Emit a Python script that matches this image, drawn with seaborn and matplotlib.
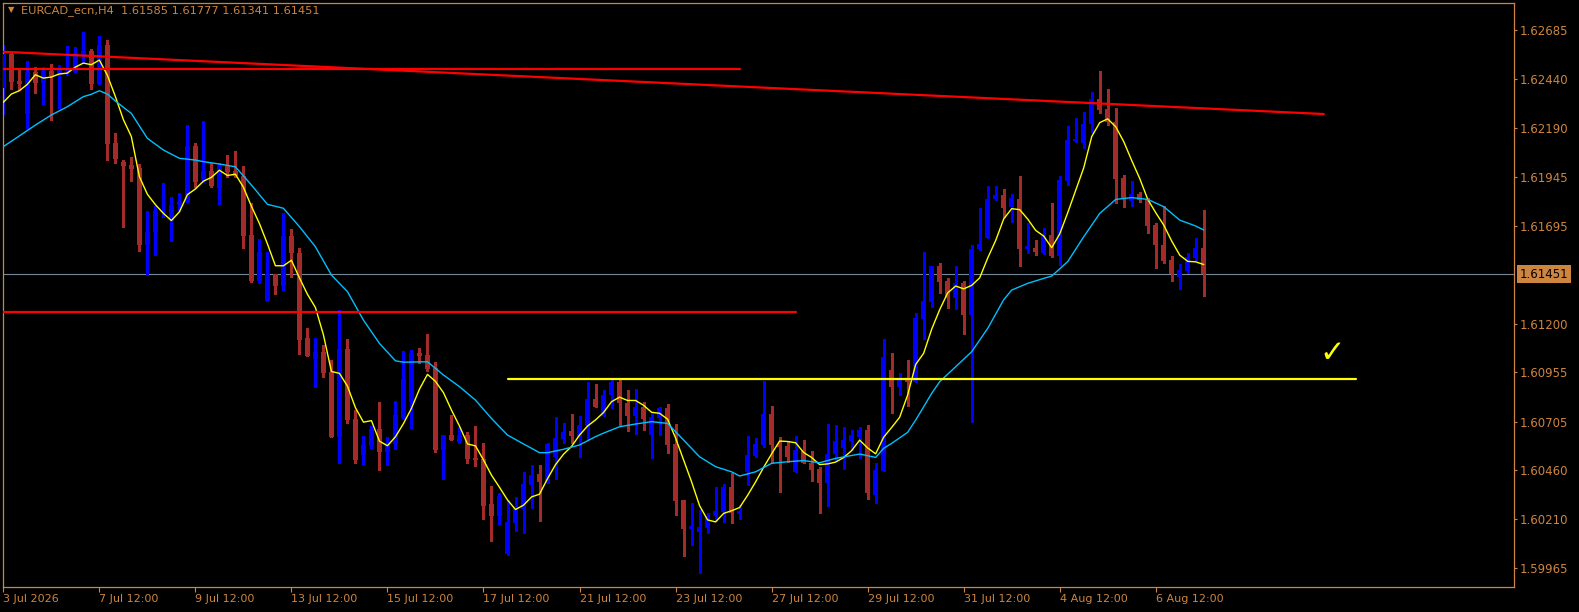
import matplotlib
matplotlib.use("Agg")
import matplotlib.pyplot as plt
import numpy as np
import pandas as pd
import seaborn as sns

# EURCAD_ecn H4 candles, oldest first
opens = [1.62392, 1.62566, 1.62429, 1.62262, 1.62475, 1.62421, 1.62481, 1.62459, 1.62481, 1.62476,
         1.62557, 1.62583, 1.62414, 1.62611, 1.62117, 1.62021, 1.62004, 1.61989, 1.61599, 1.61665,
         1.61774, 1.61722, 1.61800, 1.61818, 1.62100, 1.61928, 1.61973, 1.61889, 1.61999, 1.61973,
         1.61948, 1.61648, 1.61417, 1.61317, 1.61452, 1.61393, 1.61644, 1.61557, 1.61128, 1.61022,
         1.61057, 1.60956, 1.60627, 1.61072, 1.60718, 1.60536, 1.60583, 1.60667, 1.60553, 1.60593,
         1.60725, 1.60806, 1.61052, 1.61042, 1.60975, 1.60563, 1.60635, 1.60603, 1.60635, 1.60522,
         1.60516, 1.60290, 1.60229, 1.60036, 1.60193, 1.60263, 1.60386, 1.60440, 1.60394, 1.60524,
         1.60617, 1.60657, 1.60629, 1.60684, 1.60819, 1.60735, 1.60840, 1.60905, 1.60801, 1.60735,
         1.60780, 1.60637, 1.60725, 1.60775, 1.60592, 1.60308, 1.60161, 1.60148, 1.60168, 1.60229,
         1.60249, 1.60376, 1.60237, 1.60451, 1.60532, 1.60587, 1.60743, 1.60592, 1.60581, 1.60451,
         1.60556, 1.60494, 1.60465, 1.60396, 1.60541, 1.60570, 1.60607, 1.60629, 1.60662, 1.60333,
         1.60457, 1.60966, 1.60882, 1.60920, 1.60907, 1.61222, 1.61312, 1.61492, 1.61417, 1.61329,
         1.61405, 1.61244, 1.61579, 1.61636, 1.61830, 1.61852, 1.61789, 1.61832, 1.61579, 1.61585,
         1.61560, 1.61650, 1.61545, 1.61925, 1.62127, 1.62113, 1.62210, 1.62338, 1.62287, 1.62223,
         1.61940, 1.61823, 1.61857, 1.61830, 1.61700, 1.61599, 1.61523, 1.61439, 1.61469, 1.61535,
         1.61585]
highs = [1.62611, 1.62578, 1.62497, 1.62530, 1.62502, 1.62502, 1.62515, 1.62510, 1.62606, 1.62603,
         1.62679, 1.62591, 1.62657, 1.62637, 1.62167, 1.62029, 1.62046, 1.62007, 1.61773, 1.61796,
         1.61914, 1.61841, 1.61860, 1.62206, 1.62114, 1.62228, 1.62012, 1.62012, 1.62054, 1.62075,
         1.61999, 1.61813, 1.61629, 1.61562, 1.61452, 1.61759, 1.61680, 1.61585, 1.61179, 1.61126,
         1.61093, 1.61017, 1.61270, 1.61123, 1.60764, 1.60632, 1.60683, 1.60802, 1.60629, 1.60809,
         1.61062, 1.61067, 1.61077, 1.61148, 1.61008, 1.60635, 1.60738, 1.60679, 1.60651, 1.60683,
         1.60595, 1.60379, 1.60345, 1.60308, 1.60325, 1.60450, 1.60485, 1.60485, 1.60595, 1.60726,
         1.60696, 1.60743, 1.60735, 1.60907, 1.60895, 1.60865, 1.60915, 1.60915, 1.60865, 1.60870,
         1.60802, 1.60747, 1.60780, 1.60794, 1.60693, 1.60308, 1.60291, 1.60257, 1.60241, 1.60376,
         1.60387, 1.60446, 1.60283, 1.60634, 1.60620, 1.60910, 1.60784, 1.60629, 1.60607, 1.60634,
         1.60612, 1.60556, 1.60477, 1.60693, 1.60688, 1.60676, 1.60662, 1.60679, 1.60688, 1.60494,
         1.61123, 1.61052, 1.60953, 1.61017, 1.61253, 1.61565, 1.61492, 1.61509, 1.61430, 1.61492,
         1.61417, 1.61599, 1.61784, 1.61897, 1.61897, 1.61881, 1.61857, 1.61948, 1.61709, 1.61624,
         1.61683, 1.61810, 1.61948, 1.62203, 1.62243, 1.62274, 1.62375, 1.62480, 1.62389, 1.62291,
         1.61953, 1.61923, 1.61869, 1.61835, 1.61709, 1.61798, 1.61543, 1.61503, 1.61560, 1.61636,
         1.61777]
lows = [1.62260, 1.62389, 1.62383, 1.62189, 1.62367, 1.62313, 1.62232, 1.62294, 1.62459, 1.62476,
        1.62527, 1.62389, 1.62414, 1.62029, 1.62016, 1.61692, 1.61923, 1.61569, 1.61447, 1.61548,
        1.61742, 1.61621, 1.61771, 1.61818, 1.61894, 1.61919, 1.61891, 1.61806, 1.61945, 1.61945,
        1.61585, 1.61410, 1.61405, 1.61317, 1.61351, 1.61371, 1.61439, 1.61047, 1.61037, 1.60882,
        1.60932, 1.60625, 1.60497, 1.60696, 1.60497, 1.60490, 1.60570, 1.60460, 1.60485, 1.60565,
        1.60720, 1.60674, 1.61000, 1.60963, 1.60553, 1.60413, 1.60612, 1.60598, 1.60497, 1.60482,
        1.60212, 1.60102, 1.60187, 1.60030, 1.60153, 1.60143, 1.60269, 1.60203, 1.60394, 1.60413,
        1.60598, 1.60595, 1.60527, 1.60612, 1.60777, 1.60735, 1.60772, 1.60688, 1.60659, 1.60642,
        1.60662, 1.60522, 1.60637, 1.60548, 1.60232, 1.60026, 1.60080, 1.59940, 1.60139, 1.60203,
        1.60197, 1.60193, 1.60210, 1.60384, 1.60524, 1.60578, 1.60494, 1.60350, 1.60502, 1.60451,
        1.60494, 1.60404, 1.60244, 1.60279, 1.60510, 1.60465, 1.60561, 1.60519, 1.60313, 1.60294,
        1.60457, 1.60747, 1.60839, 1.60786, 1.60907, 1.61121, 1.61287, 1.61354, 1.61282, 1.61275,
        1.61148, 1.60705, 1.61574, 1.61633, 1.61827, 1.61742, 1.61717, 1.61494, 1.61560, 1.61548,
        1.61552, 1.61540, 1.61498, 1.61903, 1.62122, 1.62088, 1.62173, 1.62269, 1.62206, 1.61810,
        1.61790, 1.61798, 1.61818, 1.61661, 1.61484, 1.61506, 1.61418, 1.61374, 1.61456, 1.61523,
        1.61341]
closes = [1.62566, 1.62426, 1.62416, 1.62475, 1.62421, 1.62481, 1.62454, 1.62493, 1.62497, 1.62572,
          1.62583, 1.62414, 1.62611, 1.62112, 1.62034, 1.61999, 1.61984, 1.61599, 1.61665, 1.61771,
          1.61778, 1.61801, 1.61818, 1.62100, 1.61916, 1.61975, 1.61898, 1.61999, 1.61967, 1.61948,
          1.61646, 1.61417, 1.61563, 1.61452, 1.61393, 1.61644, 1.61557, 1.61118, 1.61037, 1.61057,
          1.60953, 1.60629, 1.61072, 1.60713, 1.60511, 1.60587, 1.60667, 1.60553, 1.60597, 1.60738,
          1.60921, 1.61052, 1.61039, 1.60971, 1.60561, 1.60635, 1.60612, 1.60635, 1.60517, 1.60512,
          1.60279, 1.60227, 1.60328, 1.60198, 1.60269, 1.60389, 1.60435, 1.60399, 1.60590, 1.60624,
          1.60652, 1.60632, 1.60686, 1.60819, 1.60780, 1.60840, 1.60905, 1.60801, 1.60735, 1.60780,
          1.60718, 1.60728, 1.60775, 1.60587, 1.60303, 1.60161, 1.60176, 1.60171, 1.60227, 1.60252,
          1.60376, 1.60244, 1.60252, 1.60536, 1.60592, 1.60743, 1.60587, 1.60576, 1.60524, 1.60561,
          1.60497, 1.60460, 1.60396, 1.60541, 1.60607, 1.60612, 1.60635, 1.60662, 1.60342, 1.60460,
          1.61032, 1.60882, 1.60920, 1.60907, 1.61231, 1.61315, 1.61492, 1.61413, 1.61332, 1.61405,
          1.61244, 1.61579, 1.61604, 1.61832, 1.61852, 1.61788, 1.61839, 1.61579, 1.61594, 1.61565,
          1.61644, 1.61545, 1.61928, 1.62130, 1.62135, 1.62211, 1.62336, 1.62282, 1.62223, 1.61935,
          1.61835, 1.61857, 1.61827, 1.61697, 1.61597, 1.61520, 1.61452, 1.61472, 1.61540, 1.61585,
          1.61451]

# fast MA(5) values for the first bars (history before the window)
fast_ma_head = [1.62321, 1.62363, 1.62380, 1.62412]

# slow MA, read at these bars
slow_ma_bars = [0, 2, 4, 6, 8, 10, 11, 12, 13, 14, 16, 18, 20, 22, 24, 25, 27, 29, 31, 33,
                35, 37, 39, 41, 43, 45, 47, 49, 50, 53, 55, 57, 59, 61, 63, 65, 67, 68, 70, 72,
                74, 75, 77, 79, 81, 83, 85, 87, 89, 91, 92, 94, 96, 98, 100, 102, 104, 107, 109, 110,
                111, 113, 114, 115, 116, 117, 119, 121, 123, 125, 126, 128, 130, 131, 133, 135, 137, 139, 141, 143,
                145, 147, 149, 150]
slow_ma_vals = [1.62097, 1.62151, 1.62206, 1.62257, 1.62299, 1.62350, 1.62362, 1.62380, 1.62363, 1.62328,
                1.62265, 1.62139, 1.62080, 1.62038, 1.62029, 1.62021, 1.62009, 1.61995, 1.61903, 1.61805,
                1.61785, 1.61692, 1.61590, 1.61447, 1.61363, 1.61219, 1.61101, 1.61013, 1.61006, 1.61008,
                1.60941, 1.60882, 1.60814, 1.60721, 1.60637, 1.60592, 1.60548, 1.60548, 1.60565, 1.60587,
                1.60629, 1.60647, 1.60679, 1.60693, 1.60705, 1.60696, 1.60612, 1.60527, 1.60477, 1.60451,
                1.60430, 1.60451, 1.60494, 1.60502, 1.60508, 1.60497, 1.60519, 1.60541, 1.60524, 1.60570,
                1.60595, 1.60651, 1.60713, 1.60780, 1.60848, 1.60907, 1.60983, 1.61059, 1.61177, 1.61322,
                1.61371, 1.61405, 1.61430, 1.61442, 1.61515, 1.61641, 1.61759, 1.61830, 1.61839, 1.61830,
                1.61793, 1.61725, 1.61695, 1.61675]

date_bars = [0, 12, 24, 36, 48, 60, 72, 84, 96, 108, 120, 132, 144]
date_labels = ["3 Jul 2026", "7 Jul 12:00", "9 Jul 12:00", "13 Jul 12:00", "15 Jul 12:00",
               "17 Jul 12:00", "21 Jul 12:00", "23 Jul 12:00", "27 Jul 12:00", "29 Jul 12:00",
               "31 Jul 12:00", "4 Aug 12:00", "6 Aug 12:00"]
price_ticks = [1.62685, 1.62440, 1.62190, 1.61945, 1.61695, 1.61200,
               1.60955, 1.60705, 1.60460, 1.60210, 1.59965]

# drawn objects: (bar, price) end points
trend_bars, trend_prices = [0, 165], [1.62577, 1.62262]
red_top_bars, red_top_price = [-2, 92], 1.62488
red_low_bars, red_low_price = [-2, 99], 1.61261
yellow_bars, yellow_price = [63, 169], 1.60921
check_bar, check_price = 166, 1.61050

ORANGE = '#CD853F'
BULL = '#0000FF'
BEAR = '#A52A2A'

sns.set_style("dark", {"axes.facecolor": "black", "figure.facecolor": "black",
                       "axes.grid": False, "axes.edgecolor": ORANGE})
plt.rcParams['font.family'] = ['DejaVu Sans']

fig = plt.figure(figsize=(15.79, 6.12), dpi=100)
ax = fig.add_axes([2.5 / 1579, 25 / 612, 1511 / 1579, 584 / 612])
ax.set_facecolor('black')

bars = np.arange(len(closes))
o = np.array(opens); h = np.array(highs); l = np.array(lows); c = np.array(closes)
colors = np.where(c >= o, BULL, BEAR)

last = closes[-1]
ax.axhline(last, color='#778899', lw=0.8, zorder=1)

# candles
ax.vlines(bars, l, h, colors=colors, lw=1.0, zorder=2, antialiased=False)
body = np.maximum(np.abs(c - o), 0.00002)
ax.bar(bars, body, bottom=np.minimum(o, c), width=0.68, color=colors, lw=0,
       zorder=3, antialiased=False)

# moving averages
fast = pd.Series(closes).rolling(5).mean()
fast.iloc[:4] = fast_ma_head
sns.lineplot(x=bars, y=fast.values, ax=ax, color='#FFFF00', lw=1.0, zorder=5,
             estimator=None, sort=False, legend=False)
sns.lineplot(x=slow_ma_bars, y=slow_ma_vals, ax=ax, color='#00BFFF', lw=1.0, zorder=5,
             estimator=None, sort=False, legend=False)

# objects
ax.plot(trend_bars, trend_prices, color='#FF0000', lw=1.6, zorder=6)
ax.plot(red_top_bars, [red_top_price] * 2, color='#FF0000', lw=1.6, zorder=6)
ax.plot(red_low_bars, [red_low_price] * 2, color='#FF0000', lw=1.6, zorder=6)
ax.plot(yellow_bars, [yellow_price] * 2, color='#FFFF00', lw=1.6, zorder=6)
ax.text(check_bar, check_price, "\u2713", color='#FFFF00', fontsize=22,
        fontweight='bold', ha='center', va='center', zorder=7)

ax.set_xlim(-0.1, 188.7)
ax.set_ylim(1.59868, 1.62824)

for s in ax.spines.values():
    s.set_color(ORANGE)
    s.set_linewidth(0.9)

ax.set_xticks(date_bars)
ax.set_xticklabels(date_labels, ha='left')
ax.tick_params(axis='x', colors=ORANGE, direction='out', length=3.5, width=0.8,
               labelsize=8, pad=1.5, bottom=True)
ax.yaxis.tick_right()
ax.set_yticks(price_ticks)
ax.set_yticklabels([f"{p:.5f}" for p in price_ticks])
ax.tick_params(axis='y', colors=ORANGE, direction='out', length=2.5, width=0.8,
               labelsize=8.5, pad=2, right=True, left=False)

# current price box
ax.text(1.0 + 6 / 1511, last, f"{last:.5f}", transform=ax.get_yaxis_transform(),
        ha='left', va='center', fontsize=8.5, color='black', clip_on=False,
        bbox=dict(boxstyle='square,pad=0.22', fc=ORANGE, ec='none'))

# header
fig.text(8 / 1579, 1 - 10 / 612, "\u25BC", color=ORANGE, fontsize=6, va='center')
fig.text(21 / 1579, 1 - 11 / 612,
         f"EURCAD_ecn,H4  {opens[-1]:.5f} {highs[-1]:.5f} {lows[-1]:.5f} {closes[-1]:.5f}",
         color=ORANGE, fontsize=8.2, va='center')

fig.savefig('out.png', dpi=100, facecolor='black')
